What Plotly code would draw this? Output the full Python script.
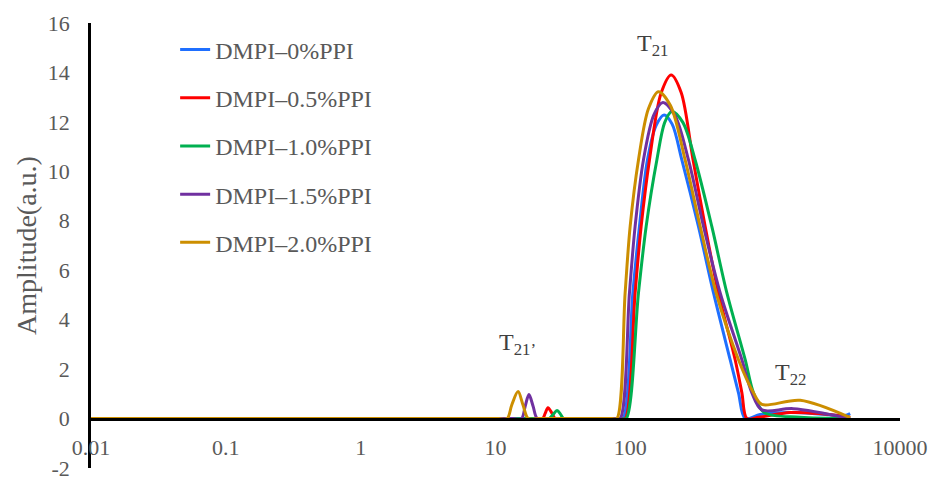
import math
import plotly.graph_objects as go

# ---------------- data ----------------
series_names = ["DMPI\u20130%PPI", "DMPI\u20130.5%PPI", "DMPI\u20131.0%PPI",
                "DMPI\u20131.5%PPI", "DMPI\u20132.0%PPI"]

t2_0 = [0.01, 0.1, 1, 10, 30, 60, 80, 88, 104.4, 116.8, 133.9, 155.4, 178, 204.2, 241, 320,
        414, 550, 634, 711, 918, 1530, 3000, 3900, 4270]
amp_0 = [0, 0, 0, 0, 0, 0, 0, 0, 5.08, 7.77, 10.46, 11.86, 12.28, 11.91, 10.46, 7.77,
         5.08, 2.38, 1.04, 0, 0.16, 0.24, 0.15, 0.12, 0.2]

t2_05 = [0.01, 0.1, 1, 10, 18, 22.3, 23.4, 24.5, 26.2, 27.8, 35, 60, 84, 91.5, 108.5, 120.3,
         138.6, 169.2, 200.8, 238.2, 292, 359, 450, 599, 672, 732, 900, 1530, 2500, 4270]
amp_05 = [0, 0, 0, 0, 0, 0, 0.22, 0.44, 0.22, 0, 0, 0, 0, 0, 5.08, 7.77,
          10.46, 13.17, 13.9, 13.19, 10.46, 7.77, 5.08, 2.38, 1.04, 0, 0.05, 0.24, 0.2, 0.05]

t2_10 = [0.01, 0.1, 1, 10, 20, 25, 26.8, 28.6, 30.4, 32, 40, 65, 86, 93.1, 114.9, 131, 157.3,
         180.3, 203.2, 245.2, 302.5, 402, 520, 711, 819, 980, 1820, 4270]
amp_10 = [0, 0, 0, 0, 0, 0, 0.17, 0.33, 0.17, 0, 0, 0, 0, 0, 5.08, 7.77, 10.46,
          11.99, 12.42, 11.98, 10.46, 7.77, 5.08, 2.38, 1.04, 0.25, 0.05, 0]

t2_15 = [0.01, 0.1, 1, 10, 13.5, 15.6, 16.6, 17.7, 19.0, 20.4, 24, 50, 77, 84, 98.5, 108.5,
         125.1, 149.4, 174.2, 213.9, 270, 349, 464, 672, 797, 945, 1615, 4270]
amp_15 = [0, 0, 0, 0, 0, 0, 0.5, 0.97, 0.5, 0, 0, 0, 0, 0, 5.08, 7.77,
          10.46, 12.28, 12.78, 12.27, 10.46, 7.77, 5.08, 2.38, 1.04, 0.35, 0.4, 0]

t2_20 = [0.01, 0.1, 1, 7, 10.5, 12.2, 13.2, 14.7, 16.0, 17.5, 21, 45, 73, 79.4, 91.5, 99.7,
         114.9, 136.2, 161.6, 198.4, 255, 329.5, 433, 634, 819, 945, 1820, 4270]
amp_20 = [0, 0, 0, 0, 0, 0, 0.55, 1.09, 0.55, 0, 0, 0, 0, 0, 5.08, 7.77,
          10.46, 12.53, 13.22, 12.66, 10.46, 7.77, 5.08, 2.38, 1.04, 0.57, 0.74, 0.04]

x_tick_vals = [0.01, 0.1, 1, 10, 100, 1000, 10000]
x_tick_text = ["0.01", "0.1", "1", "10", "100", "1000", "10000"]
y_tick_vals = [-2, 0, 2, 4, 6, 8, 10, 12, 14, 16]
y_tick_text = ["-2", "0", "2", "4", "6", "8", "10", "12", "14", "16"]

peak_labels = ["T<sub>21\u2019</sub>", "T<sub>21</sub>", "T<sub>22</sub>"]
peak_label_x = [14.5, 147, 1530]
peak_label_y = [3.0, 15.1, 1.8]

# ---------------- styles ----------------
colors = ["#1F6FFF", "#FF0000", "#00B050", "#7030A0", "#CC8E00"]
FONT = "Liberation Serif, Times New Roman, serif"
GREY = "#595959"

xs = [t2_0, t2_05, t2_10, t2_15, t2_20]
ys = [amp_0, amp_05, amp_10, amp_15, amp_20]

fig = go.Figure()
for i, (name, x, y) in enumerate(zip(series_names, xs, ys)):
    fig.add_trace(go.Scatter(
        x=x, y=y, name=name, mode="lines",
        line=dict(color=colors[i], width=3, shape="spline", smoothing=0.9),
        legendgroup=f"g{i}",
    ))

for txt, ax, ay in zip(peak_labels, peak_label_x, peak_label_y):
    # annotation x on a log axis is given in log10 units
    fig.add_annotation(x=math.log10(ax), y=ay, xref="x", yref="y", text=txt, showarrow=False,
                       font=dict(family=FONT, size=24, color="#404040"))

fig.update_layout(
    width=931, height=472,
    margin=dict(l=83, r=39, t=15, b=12, autoexpand=False),
    paper_bgcolor="white", plot_bgcolor="white",
    font=dict(family=FONT, size=22, color=GREY),
    showlegend=True,
    legend=dict(x=0.104, y=0.99, xanchor="left", yanchor="top",
                bgcolor="rgba(0,0,0,0)", font=dict(family=FONT, size=24, color=GREY),
                tracegroupgap=14, itemwidth=30),
    xaxis=dict(type="log", range=[-2, 4], tickvals=x_tick_vals, ticktext=x_tick_text,
               showline=True, linecolor="black", linewidth=3, showgrid=False, zeroline=False,
               ticks="outside", ticklen=8, tickcolor="rgba(0,0,0,0)",
               anchor="free", position=2 / 18, automargin=False,
               tickfont=dict(family=FONT, size=22, color=GREY)),
    yaxis=dict(range=[-2, 16], tickvals=y_tick_vals, ticktext=y_tick_text,
               showline=True, linecolor="black", linewidth=2.5, showgrid=False, zeroline=False,
               ticks="outside", ticklen=14, tickcolor="rgba(0,0,0,0)", automargin=False,
               ticklabeloverflow="allow",
               tickfont=dict(family=FONT, size=22, color=GREY),
               title=dict(text="Amplitude(a.u.)", standoff=4,
                          font=dict(family=FONT, size=28, color=GREY))),
)

fig.write_html("out.html")
